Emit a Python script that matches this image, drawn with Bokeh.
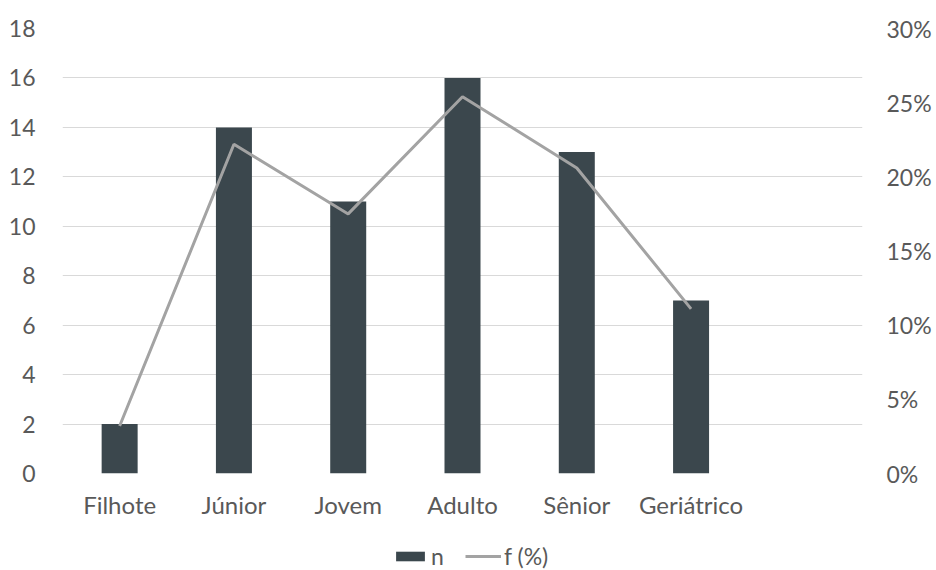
from bokeh.plotting import figure
from bokeh.layouts import column
from bokeh.models import Range1d, LinearAxis, FixedTicker, Legend, LegendItem, ColumnDataSource
from bokeh.embed import file_html
from bokeh.resources import INLINE

categories = ["Filhote", "Júnior", "Jovem", "Adulto", "Sênior", "Geriátrico"]
n_values = [2, 14, 11, 16, 13, 7]
f_values = [3.2, 22.2, 17.5, 25.4, 20.6, 11.1]
left_ticks = [0, 2, 4, 6, 8, 10, 12, 14, 16, 18]
right_ticks = [0, 5, 10, 15, 20, 25, 30]

FONT = "Lato"
TXT = "#595959"
BAR = "#3b474d"
LINE = "#a3a3a3"

xpos = [i + 0.5 for i in range(len(categories))]
src = ColumnDataSource(dict(x=xpos, n=n_values, f=f_values, cat=categories))

p = figure(width=936, height=530, output_backend="svg", toolbar_location=None,
           x_range=Range1d(0, 7), y_range=Range1d(0, 18),
           min_border_left=62, min_border_right=74, min_border_top=28, min_border_bottom=57)
p.outline_line_color = None
p.extra_y_ranges = {"pct": Range1d(0, 30)}

p.vbar(x="x", top="n", width=0.315, source=src, fill_color=BAR, line_color=None)
p.line(x="x", y="f", source=src, y_range_name="pct", line_color=LINE, line_width=3)

p.xaxis.ticker = FixedTicker(ticks=xpos)
p.xaxis.major_label_overrides = {x: c for x, c in zip(xpos, categories)}
p.yaxis.ticker = FixedTicker(ticks=left_ticks)

right = LinearAxis(y_range_name="pct", ticker=FixedTicker(ticks=right_ticks))
right.major_label_overrides = {t: f"{t}%" for t in right_ticks}
p.add_layout(right, "right")

for ax in [p.xaxis[0], p.yaxis[0], right]:
    ax.axis_line_color = None
    ax.major_tick_line_color = None
    ax.minor_tick_line_color = None
    ax.major_label_text_font = FONT
    ax.major_label_text_font_size = "23px"
    ax.major_label_text_color = TXT
p.xaxis.major_label_text_font_size = "24px"
p.xaxis.major_label_standoff = 10
p.yaxis[0].major_label_standoff = 21
right.major_label_standoff = 18

p.xgrid.grid_line_color = None
p.ygrid.ticker = FixedTicker(ticks=left_ticks)
p.ygrid.grid_line_color = "#d9d9d9"
p.ygrid.grid_line_width = 1

# legend strip below the chart
lg = figure(width=936, height=40, output_backend="svg", toolbar_location=None,
            x_range=Range1d(0, 1), y_range=Range1d(0, 1),
            x_axis_location=None, y_axis_location=None,
            min_border=0, min_border_left=0, min_border_right=0, min_border_top=0, min_border_bottom=0)
lg.outline_line_color = None
lg.xgrid.visible = False
lg.ygrid.visible = False
offscreen = ColumnDataSource(dict(x=[-10, -9], top=[-10, -10], y=[-10, -10]))
rb = lg.vbar(x="x", top="top", width=0.1, source=offscreen, fill_color=BAR, line_color=None)
rl = lg.line(x="x", y="y", source=offscreen, line_color=LINE, line_width=3)

legend = Legend(items=[LegendItem(label="n", renderers=[rb]),
                       LegendItem(label="f (%)", renderers=[rl])],
                orientation="horizontal", location=(330, 0),
                label_text_font=FONT, label_text_font_size="23px", label_text_color=TXT,
                glyph_width=36, glyph_height=12, label_standoff=3, spacing=14,
                border_line_color=None, background_fill_alpha=0, padding=0, margin=0)
lg.add_layout(legend, "center")

layout = column(p, lg, spacing=0)
open("out.html", "w").write(file_html(layout, INLINE))
